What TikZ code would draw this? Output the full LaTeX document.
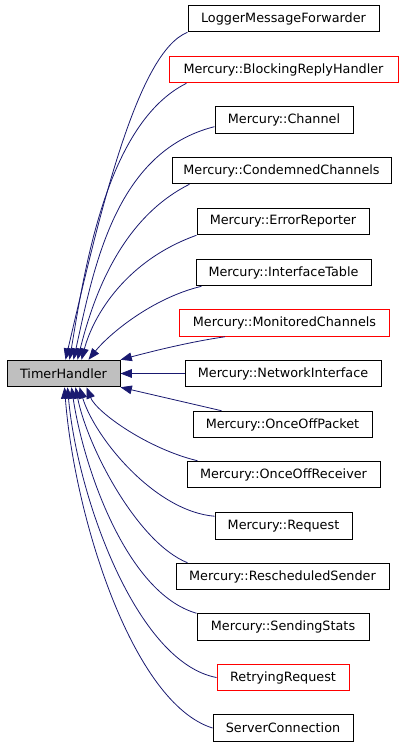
\documentclass[tikz,border=0pt]{standalone}
\usepackage{fontspec}
\setmainfont{DejaVu Sans}
\usetikzlibrary{arrows.meta}
\definecolor{edgeblue}{RGB}{25,25,112}
\definecolor{basegray}{RGB}{191,191,191}

\begin{document}
\begin{tikzpicture}[
  x=0.75pt, y=-0.75pt,
  >={Triangle[length=8.5pt,width=6.5pt]},
  every node/.style={font=\fontsize{9.6}{11}\selectfont, inner sep=0pt, minimum height=19.9pt, line width=0.75pt},
  base/.style={draw=black, fill=basegray},
  cls/.style={draw=black},
  redcls/.style={draw=red},
  inherit/.style={->, draw=edgeblue, line width=0.6pt}
]
\useasboundingbox (0,0) rectangle (402,746);

% --- Base class ---
\node[base, minimum width=84.75pt] (th) at (63.5,373.5) {TimerHandler};

% --- Derived classes, top to bottom ---
\node[cls,    minimum width=143.25pt] (lmf)  at (283.5, 18.5) {LoggerMessageForwarder};
\node[redcls, minimum width=171.75pt] (brh)  at (283.5, 69.5) {Mercury::BlockingReplyHandler};
\node[cls,    minimum width=103.5pt]  (chan) at (284,  120)   {Mercury::Channel};
\node[cls,    minimum width=164.25pt] (cond) at (281.5,170.5) {Mercury::CondemnedChannels};
\node[cls,    minimum width=129pt]    (err)  at (283,  221.5) {Mercury::ErrorReporter};
\node[cls,    minimum width=131.25pt] (itab) at (283.5,272.5) {Mercury::InterfaceTable};
\node[redcls, minimum width=157.5pt]  (mon)  at (284.5,323)   {Mercury::MonitoredChannels};
\node[cls,    minimum width=147pt]    (nif)  at (283,  373.5) {Mercury::NetworkInterface};
\node[cls,    minimum width=134.25pt] (oop)  at (282.5,424.5) {Mercury::OnceOffPacket};
\node[cls,    minimum width=144.75pt] (oor)  at (283.5,474.5) {Mercury::OnceOffReceiver};
\node[cls,    minimum width=102.75pt] (req)  at (283.5,526)   {Mercury::Request};
\node[cls,    minimum width=159.75pt] (rss)  at (282.5,576.5) {Mercury::RescheduledSender};
\node[cls,    minimum width=129pt]    (ss)   at (283,  627)   {Mercury::SendingStats};
\node[redcls, minimum width=99pt]     (rr)   at (283,  677.5) {RetryingRequest};
\node[cls,    minimum width=105pt]    (sc)   at (283,  728)   {ServerConnection};

% --- Inheritance edges into the top of the base ---
\draw[inherit] (lmf.south west) .. controls +(-50,20) and +(35,-150) .. ([xshift=44.25pt]th.north west);
\draw[inherit] ([xshift=13.5pt]brh.south west) .. controls +(-80,40) and +(15,-90) .. ([xshift=47.25pt]th.north west);
\draw[inherit] ([yshift=-5pt]chan.west) .. controls +(-100,25) and +(20,-90) .. ([xshift=50.25pt]th.north west);
\draw[inherit] ([xshift=13.5pt]cond.south west) .. controls +(-70,35) and +(15,-60) .. ([xshift=53.25pt]th.north west);
\draw[inherit] (err.south west) .. controls +(-70,25) and +(12,-45) .. ([xshift=56.25pt]th.north west);
\draw[inherit] ([xshift=4.5pt]itab.south west) .. controls +(-50,12) and +(20,-25) .. ([xshift=61.5pt]th.north west);
\draw[inherit] ([xshift=34.5pt]mon.south west) .. controls +(-35,5) and +(30,-8) .. (th.north east);

% --- Straight edge ---
\draw[inherit] (nif.west) -- (th.east);

% --- Inheritance edges into the bottom of the base ---
\draw[inherit] ([xshift=21.75pt]oop.north west) .. controls +(-30,-7) and +(30,7) .. (th.south east);
\draw[inherit] ([xshift=8.25pt]oor.north west) .. controls +(-50,-12) and +(10,25) .. ([xshift=60pt]th.south west);
\draw[inherit] ([yshift=-3pt]req.north west) .. controls +(-60,-5) and +(15,50) .. ([xshift=54.75pt]th.south west);
\draw[inherit] ([xshift=9pt]rss.north west) .. controls +(-50,-20) and +(12,60) .. ([xshift=51.75pt]th.south west);
\draw[inherit] (ss.north west) .. controls +(-70,-20) and +(12,80) .. ([xshift=48.75pt]th.south west);
\draw[inherit] (rr.west) .. controls +(-80,-15) and +(10,110) .. ([xshift=45.75pt]th.south west);
\draw[inherit] (sc.west) .. controls +(-80,-25) and +(10,130) .. ([xshift=43.5pt]th.south west);

\end{tikzpicture}
\end{document}
